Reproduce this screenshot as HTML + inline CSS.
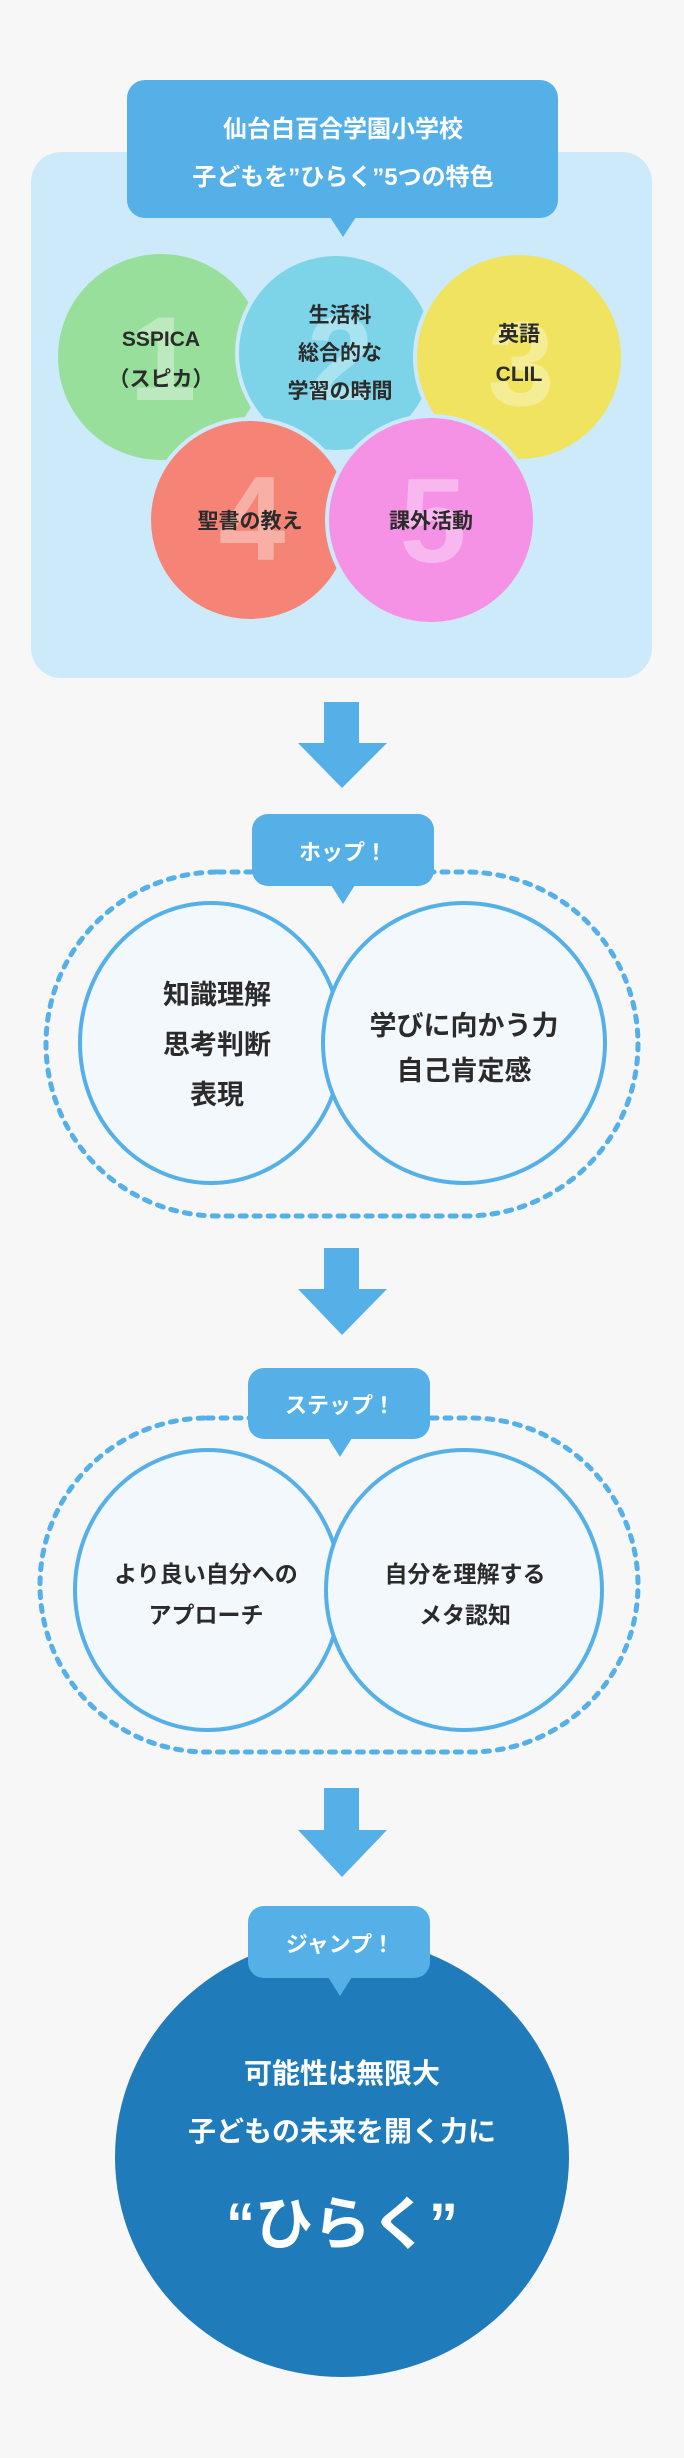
<!DOCTYPE html>
<html><head><meta charset="utf-8"><style>
html,body{margin:0;padding:0;background:#f7f7f7;}
svg{display:block;}
text{font-family:"Liberation Sans","Noto Sans CJK JP",sans-serif;font-weight:bold;text-anchor:middle;}
</style></head><body>
<svg width="684" height="2458" viewBox="0 0 684 2458" xmlns="http://www.w3.org/2000/svg">
<rect width="684" height="2458" fill="#f7f7f7"/>
<rect x="31" y="152" width="621" height="526" rx="30" fill="#cdeafb"/>
<g stroke="#cdeafb" stroke-width="4">
<circle cx="161" cy="357" r="105" fill="#98df9c"/>
<circle cx="336" cy="353" r="99" fill="#7dd4e8"/>
<circle cx="519" cy="357" r="104" fill="#f0e35f"/>
<circle cx="250" cy="520" r="101" fill="#f58476"/>
<circle cx="431" cy="520" r="104" fill="#f592e6"/>
</g>
<g fill="#ffffff" fill-opacity="0.35" font-size="120">
<text x="163" y="400">1</text>
<text x="340" y="400">2</text>
<text x="521" y="405">3</text>
<text x="252" y="560">4</text>
<text x="433" y="562">5</text>
</g>
<g fill="#2b2b2b" font-size="21">
<text x="161" y="346">SSPICA</text>
<text x="161" y="386">（スピカ）</text>
<text x="340" y="322">生活科</text>
<text x="340" y="360">総合的な</text>
<text x="340" y="398">学習の時間</text>
<text x="519" y="341">英語</text>
<text x="519" y="381">CLIL</text>
<text x="250" y="528">聖書の教え</text>
<text x="431" y="528">課外活動</text>
</g>
<rect x="127" y="80" width="431" height="138" rx="18" fill="#55b0e8"/>
<polygon points="330,217 356,217 343,237" fill="#55b0e8"/>
<g fill="#ffffff" font-size="24">
<text x="343" y="137">仙台白百合学園小学校</text>
<text x="343" y="185">子どもを”ひらく”5つの特色</text>
</g>

<polygon points="324,702 359,702 359,743 387,743 342,788 298,743 324,743" fill="#55b0e8"/>

<rect x="46" y="872" width="592" height="344" rx="172" ry="172" fill="none" stroke="#55b0e8" stroke-width="5" stroke-dasharray="6 8" stroke-linecap="round"/>
<g stroke="#55b0e8" stroke-width="4" fill="#f2f8fc">
<ellipse cx="211" cy="1043" rx="131" ry="140"/>
<ellipse cx="464" cy="1043" rx="141" ry="140"/>
</g>
<g fill="#2b2b2b" font-size="27">
<text x="217" y="1004">知識理解</text>
<text x="217" y="1054">思考判断</text>
<text x="217" y="1104">表現</text>
<text x="464" y="1035">学びに向かう力</text>
<text x="464" y="1080">自己肯定感</text>
</g>
<rect x="252" y="814" width="182" height="72" rx="16" fill="#55b0e8"/>
<polygon points="331,885 355,885 343,904" fill="#55b0e8"/>
<text x="343" y="860" fill="#ffffff" font-size="22">ホップ！</text>

<polygon points="324,1248 359,1248 359,1289 387,1289 342,1335 298,1289 324,1289" fill="#55b0e8"/>

<rect x="40" y="1418" width="598" height="334" rx="167" ry="167" fill="none" stroke="#55b0e8" stroke-width="5" stroke-dasharray="6 8" stroke-linecap="round"/>
<g stroke="#55b0e8" stroke-width="4" fill="#f2f8fc">
<ellipse cx="208" cy="1590" rx="133" ry="140"/>
<ellipse cx="464" cy="1590" rx="138" ry="140"/>
</g>
<g fill="#2b2b2b" font-size="23">
<text x="206" y="1582">より良い自分への</text>
<text x="206" y="1623">アプローチ</text>
<text x="465" y="1582">自分を理解する</text>
<text x="465" y="1623">メタ認知</text>
</g>
<rect x="248" y="1368" width="182" height="71" rx="16" fill="#55b0e8"/>
<polygon points="328,1438 352,1438 340,1457" fill="#55b0e8"/>
<text x="340" y="1413" fill="#ffffff" font-size="22">ステップ！</text>

<polygon points="324,1788 359,1788 359,1830 387,1830 342,1877 298,1830 324,1830" fill="#55b0e8"/>

<ellipse cx="342" cy="2157" rx="227" ry="220" fill="#207bba"/>
<rect x="248" y="1906" width="182" height="72" rx="16" fill="#55b0e8"/>
<polygon points="328,1977 352,1977 340,1996" fill="#55b0e8"/>
<text x="340" y="1952" fill="#ffffff" font-size="22">ジャンプ！</text>
<g fill="#ffffff">
<text x="342" y="2083" font-size="28">可能性は無限大</text>
<text x="342" y="2141" font-size="28">子どもの未来を開く力に</text>
<text x="342" y="2244" font-size="58">“ひらく”</text>
</g>
</svg>
</body></html>
